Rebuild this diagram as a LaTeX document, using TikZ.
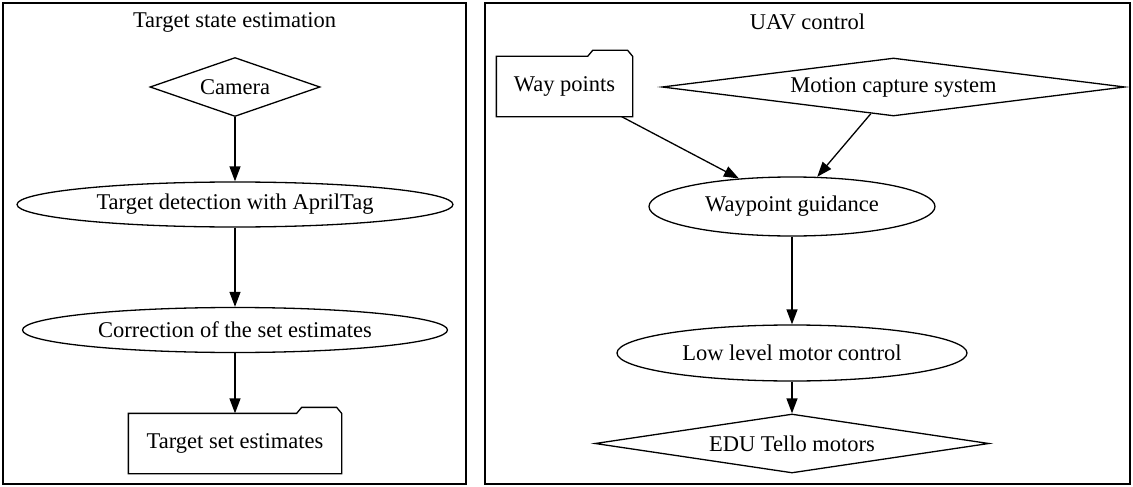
\documentclass[tikz,border=0pt]{standalone}
\usepackage{fontspec}
\setmainfont{Liberation Serif}
\usetikzlibrary{shapes.geometric,arrows.meta}

% outline of a folder shaped node, tab on the right
\newcommand{\folderline}[1]{%
  \draw (#1.south west) -- (#1.north west)
    -- ([xshift=-45pt]#1.north east) -- ([xshift=-40pt,yshift=6pt]#1.north east)
    -- ([xshift=-5pt,yshift=6pt]#1.north east) -- (#1.north east)
    -- (#1.south east) -- cycle;}

\begin{document}
\begin{tikzpicture}[x=1pt,y=-1pt,line width=1.3pt,
every node/.style={font=\fontsize{22.5}{27}\selectfont,inner sep=0pt},
cluster/.style={line width=1.1pt},
dia/.style={diamond,draw},
ell/.style={ellipse,draw},
folder/.style={rectangle,minimum height=59pt},
flow/.style={-{Triangle[length=15pt,width=11pt]}}]
\useasboundingbox (0,0) rectangle (1133,487);

% target state estimation
\draw[cluster] (3,3) rectangle (466,484);
\node (tseTitle) at (234.5,22) {Target state estimation};
\node[dia,minimum width=170pt,minimum height=59pt,aspect=2.9] (cam) at (235,87) {Camera};
\node[ell,minimum width=436pt,minimum height=45pt] (det) at (235,204.5) {Target detection with AprilTag};
\node[ell,minimum width=425pt,minimum height=45pt] (cor) at (235,330) {Correction of the set estimates};
\node[folder,minimum width=212pt] (tse) at (235,443.5) {Target set estimates};
\folderline{tse}

\draw[flow] (cam) -- (det);
\draw[flow] (det) -- (cor);
\draw[flow] (cor) -- (tse);

% uav control
\draw[cluster] (485,3) rectangle (1130,484);
\node (uavTitle) at (807.5,22) {UAV control};
\node[folder,minimum width=135pt] (wp) at (564.5,86.5) {Way points};
\folderline{wp}
\node[dia,minimum width=463pt,minimum height=58pt,aspect=8] (mcs) at (893.5,87) {Motion capture system};
\node[ell,minimum width=286pt,minimum height=59pt] (wg) at (792,206.5) {Waypoint guidance};
\node[ell,minimum width=350pt,minimum height=56pt] (llc) at (792,353) {Low level motor control};
\node[dia,minimum width=394pt,minimum height=59pt,aspect=6.7] (edu) at (792,443.5) {EDU Tello motors};

\draw[flow] (wp) -- (wg);
\draw[flow] (mcs) -- (wg);
\draw[flow] (wg) -- (llc);
\draw[flow] (llc) -- (edu);
\end{tikzpicture}
\end{document}
